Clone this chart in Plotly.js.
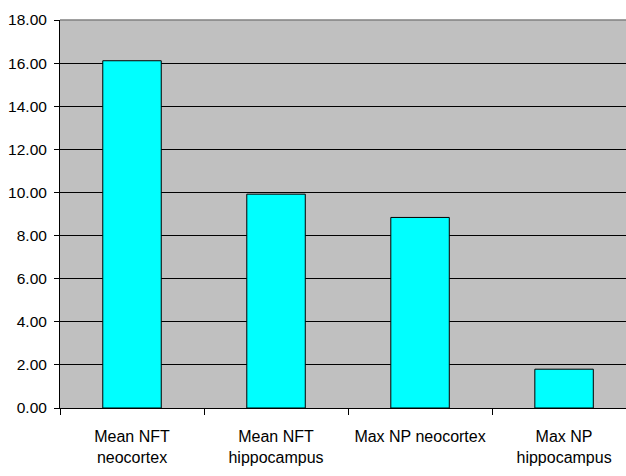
<!DOCTYPE html>
<html>
<head>
<meta charset="utf-8">
<script src="https://cdn.plot.ly/plotly-3.0.1.min.js"></script>
<style>html,body{margin:0;padding:0;background:#fff;overflow:hidden}#chart{width:626px;height:476px}</style>
</head>
<body>
<div id="chart"></div>
<script>
const categories = ["Mean NFT<br>neocortex", "Mean NFT<br>hippocampus", "Max NP neocortex", "Max NP<br>hippocampus"];
const values = [16.11, 9.92, 8.84, 1.80];
const yTicks = [0, 2, 4, 6, 8, 10, 12, 14, 16, 18];
const yTickLabels = ["0.00", "2.00", "4.00", "6.00", "8.00", "10.00", "12.00", "14.00", "16.00", "18.00"];

const font = {family: "'Liberation Sans Narrow', 'Arial Narrow', 'Liberation Sans', Arial, sans-serif", size: 15.5, color: "#000"};
const xFont = {family: font.family, size: 16, color: "#000"};

const trace = {
  type: "bar",
  x: categories,
  y: values,
  marker: {color: "#00ffff", line: {color: "#000", width: 1}},
  hoverinfo: "none"
};

const layout = {
  width: 626, height: 476,
  margin: {l: 60, r: 0, t: 20, b: 68, pad: 0},
  paper_bgcolor: "#ffffff",
  plot_bgcolor: "#c0c0c0",
  bargap: 0.594,
  showlegend: false,
  font: font,
  xaxis: {
    type: "category",
    range: [-0.5, 3.43],
    tickson: "boundaries",
    tickangle: 0,
    ticks: "outside", ticklen: 6, tickcolor: "#000", tickwidth: 1,
    ticklabelstandoff: 14,
    showline: true, linecolor: "#000", linewidth: 1,
    showgrid: false, zeroline: false,
    tickfont: xFont, fixedrange: true
  },
  yaxis: {
    range: [0, 18],
    tickmode: "array", tickvals: yTicks, ticktext: yTickLabels,
    ticks: "outside", ticklen: 5, tickcolor: "#000", tickwidth: 1,
    ticklabelstandoff: 4,
    showline: true, linecolor: "#000", linewidth: 1,
    showgrid: true, gridcolor: "#000", gridwidth: 1,
    zeroline: false,
    tickfont: font, fixedrange: true
  },
  shapes: [{
    type: "line", xref: "paper", yref: "paper", x0: 0, x1: 1, y0: 1, y1: 1,
    line: {color: "#808080", width: 1.5}, layer: "above"
  }]
};

Plotly.newPlot("chart", [trace], layout, {displayModeBar: false, staticPlot: true});
</script>
</body>
</html>
